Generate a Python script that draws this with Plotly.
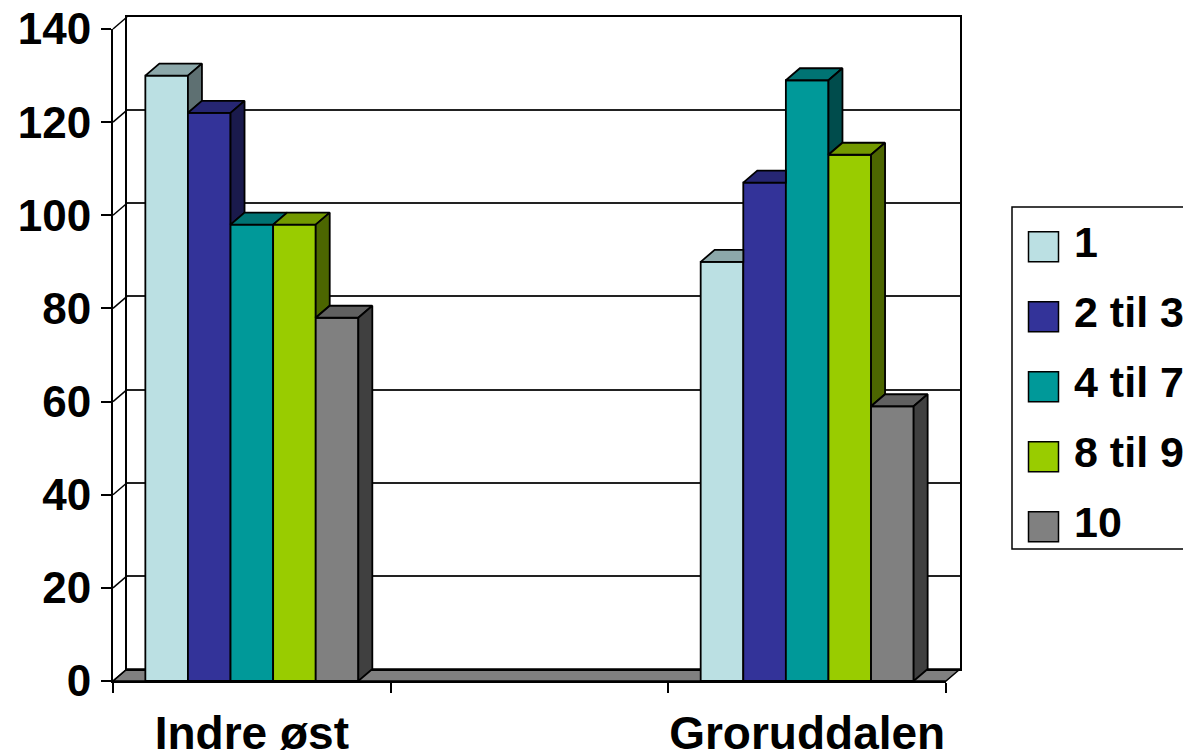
import plotly.graph_objects as go

# ---------------- data ----------------
categories = ["Indre øst", "", "Groruddalen"]
series_names = ["1", "2 til 3", "4 til 7", "8 til 9", "10"]
values_1 = [130, None, 90]
values_2_til_3 = [122, None, 107]
values_4_til_7 = [98, None, 129]
values_8_til_9 = [98, None, 113]
values_10 = [78, None, 59]
y_ticks = [0, 20, 40, 60, 80, 100, 120, 140]

series_values = [values_1, values_2_til_3, values_4_til_7, values_8_til_9, values_10]
colors = ["#BBE0E3", "#333399", "#009999", "#99CC00", "#808080"]

# ---------------- geometry / style ----------------
VW, VH = 1191, 754                      # browser window
OFF = 8                                 # default page (body) margin
W, H = VW - OFF, VH - OFF               # figure size so it ends at the window edge
FL, FR, FT, FB = 113, 946, 29, 681      # front frame (window px)
DX, DY = 14, 12                         # 3-D depth offset (px)
Y_MAX = 140
X_RANGE = [-0.5, len(categories) - 0.5]
BARGAP = 0.233
FONT = "Arial, 'Liberation Sans', sans-serif"
EDGE = 1.8


def pxx(p):
    return (p - OFF) / W


def pxy(p):
    return 1 - (p - OFF) / H


def shade(hexc, f):
    h = hexc.lstrip("#")
    r, g, b = (int(h[k:k + 2], 16) for k in (0, 2, 4))
    return "rgb(%d,%d,%d)" % (round(r * f), round(g * f), round(b * f))


ux = (FR - FL) / (X_RANGE[1] - X_RANGE[0])
uy = (FB - FT) / Y_MAX
ddx = DX / ux
ddy = DY / uy

n = len(series_names)
group_w = 1 - BARGAP
bar_w = group_w / n
xs = list(range(len(categories)))

fig = go.Figure()

# invisible trace so the back-wall subplot (x, y) is created and drawn first
fig.add_trace(go.Scatter(x=[X_RANGE[0]], y=[0], mode="markers", marker=dict(opacity=0),
                         xaxis="x", yaxis="y", showlegend=False, hoverinfo="skip"))

# front faces (real bars)
for i, (name, vals, col) in enumerate(zip(series_names, series_values, colors)):
    fig.add_trace(go.Bar(
        x=xs, y=vals, name=name, width=bar_w, offset=-group_w / 2 + i * bar_w,
        marker=dict(color=col, line=dict(color="black", width=EDGE)),
        xaxis="x2", yaxis="y2", showlegend=False,
    ))

# top and side faces
for i, (vals, col) in enumerate(zip(series_values, colors)):
    tx, ty, sx, sy = [], [], [], []
    for c, v in enumerate(vals):
        if v is None:
            continue
        xl = c - group_w / 2 + i * bar_w
        xr = xl + bar_w
        nxt = series_values[i + 1][c] if i + 1 < n else None
        if nxt is not None and nxt > v:
            tx += [xl, xr, xr, xl + ddx, xl, None]
            ty += [v, v, v + ddy, v + ddy, v, None]
        else:
            tx += [xl, xr, xr + ddx, xl + ddx, xl, None]
            ty += [v, v, v + ddy, v + ddy, v, None]
        if nxt is None:
            base = 0
        elif nxt < v:
            base = nxt
        else:
            base = None
        if base is not None:
            sx += [xr, xr + ddx, xr + ddx, xr, xr, None]
            sy += [base, base + ddy, v + ddy, v, base, None]
    fig.add_trace(go.Scatter(x=tx, y=ty, mode="lines", fill="toself",
                             fillcolor=shade(col, 0.75),
                             line=dict(color="black", width=EDGE),
                             xaxis="x2", yaxis="y2", showlegend=False, hoverinfo="skip",
                             cliponaxis=False))
    if sx:
        fig.add_trace(go.Scatter(x=sx, y=sy, mode="lines", fill="toself",
                                 fillcolor=shade(col, 0.5),
                                 line=dict(color="black", width=EDGE),
                                 xaxis="x2", yaxis="y2", showlegend=False, hoverinfo="skip",
                                 cliponaxis=False))

# ---------------- legend (drawn on its own small axes) ----------------
LEG_X0, LEG_TOP, LEG_BOT = 1012, 207, 549
ITEM0, ITEM_STEP = 246.7, 70
fig.add_trace(go.Scatter(
    x=[31.5] * n, y=list(range(n)), mode="markers",
    marker=dict(symbol="square", size=30, color=colors, line=dict(color="black", width=1.5)),
    xaxis="x3", yaxis="y3", showlegend=False, hoverinfo="skip", cliponaxis=False))
fig.add_trace(go.Scatter(
    x=[62] * n, y=list(range(n)), mode="text", text=series_names,
    textposition="middle right",
    textfont=dict(family=FONT, size=43, color="black", weight="bold"),
    xaxis="x3", yaxis="y3", showlegend=False, hoverinfo="skip", cliponaxis=False))

# ---------------- structural shapes ----------------
fy0, fy1 = pxy(FB), pxy(FT)
shapes = []
# floor
shapes.append(dict(
    type="path", xref="paper", yref="paper", layer="below",
    path="M %f %f L %f %f L %f %f L %f %f Z" % (
        pxx(FL), pxy(FB), pxx(FR), pxy(FB), pxx(FR + DX), pxy(FB - DY), pxx(FL + DX), pxy(FB - DY)),
    fillcolor="#808080", line=dict(color="black", width=1.5)))
# left wall diagonals
for t in y_ticks:
    yf = fy0 + t / Y_MAX * (fy1 - fy0)
    shapes.append(dict(type="line", xref="paper", yref="paper",
                       x0=pxx(FL), y0=yf, x1=pxx(FL + DX), y1=yf + DY / H,
                       line=dict(color="black", width=1.5)))
# legend box
shapes.append(dict(type="rect", xref="paper", yref="paper",
                   x0=pxx(LEG_X0), x1=1.0 + 20 / W, y0=pxy(LEG_BOT), y1=pxy(LEG_TOP),
                   line=dict(color="black", width=1.5), fillcolor="rgba(0,0,0,0)"))

tick_idx = [k for k, c in enumerate(categories) if c]
tick_txt = [categories[k] for k in tick_idx]
bounds = [k - 0.5 for k in range(len(categories) + 1)]

fig.update_layout(
    width=W, height=H, autosize=False,
    margin=dict(l=0, r=0, t=0, b=0, pad=0, autoexpand=False),
    paper_bgcolor="white", plot_bgcolor="rgba(0,0,0,0)",
    barmode="overlay",
    showlegend=False,
    shapes=shapes,
    font=dict(family=FONT, color="black"),
    # back wall
    xaxis=dict(domain=[pxx(FL + DX), pxx(FR + DX)], range=X_RANGE, anchor="y",
               showgrid=False, zeroline=False, showticklabels=False, ticks="",
               showline=True, mirror=True, linecolor="black", linewidth=2,
               fixedrange=True, automargin=False),
    yaxis=dict(domain=[pxy(FB - DY), pxy(FT - DY)], range=[0, Y_MAX], anchor="x",
               tickmode="array", tickvals=y_ticks, showgrid=True, gridcolor="#222222",
               gridwidth=1.6, zeroline=False, showticklabels=False, ticks="",
               showline=True, mirror=True, linecolor="black", linewidth=2,
               fixedrange=True, automargin=False),
    # front frame
    xaxis2=dict(domain=[pxx(FL), pxx(FR)], range=X_RANGE, anchor="y2",
                tickmode="array", tickvals=tick_idx, ticktext=tick_txt, ticks="",
                tickfont=dict(family=FONT, size=46, color="black", weight="bold"),
                ticklabelstandoff=11, ticklabeloverflow="allow",
                minor=dict(tickmode="array", tickvals=bounds, ticks="outside",
                           ticklen=10, tickwidth=2, tickcolor="black", showgrid=False),
                showgrid=False, zeroline=False, showline=True, linecolor="black",
                linewidth=2, fixedrange=True, automargin=False),
    yaxis2=dict(domain=[pxy(FB), pxy(FT)], range=[0, Y_MAX], anchor="x2",
                tickmode="array", tickvals=y_ticks, ticks="outside", ticklen=10,
                tickwidth=2, tickcolor="black",
                tickfont=dict(family=FONT, size=44, color="black", weight="bold"),
                ticklabelstandoff=1, ticklabeloverflow="allow",
                showgrid=False, zeroline=False, showline=True, linecolor="black",
                linewidth=2, fixedrange=True, automargin=False),
    # legend axes
    xaxis3=dict(domain=[pxx(LEG_X0), 1], range=[0, VW - LEG_X0], anchor="y3",
                visible=False, fixedrange=True, automargin=False),
    yaxis3=dict(domain=[pxy(ITEM0 - ITEM_STEP / 2 + n * ITEM_STEP), pxy(ITEM0 - ITEM_STEP / 2)],
                range=[n - 0.5, -0.5], anchor="x3", visible=False, fixedrange=True,
                automargin=False),
)

fig.write_html("out.html")
